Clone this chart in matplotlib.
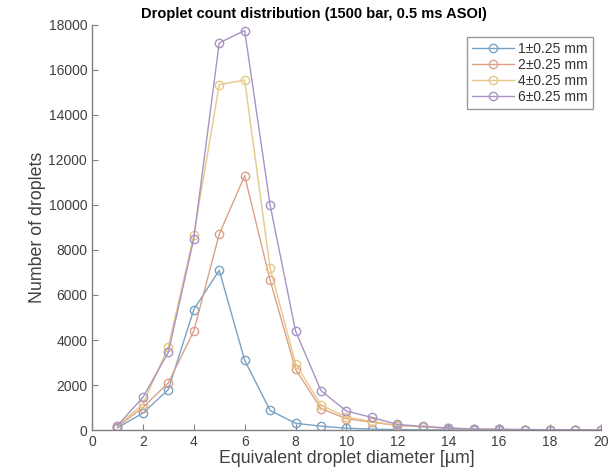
import matplotlib
matplotlib.use("Agg")
import matplotlib.pyplot as plt

plt.rcParams['font.family'] = ['Liberation Sans', 'DejaVu Sans']

diameter = list(range(1, 21))
s1 = [100, 750, 1800, 5350, 7100, 3100, 870, 300, 170, 80, 40, 20, 10, 5, 3, 2, 1, 1, 0, 0]
s2 = [150, 1000, 2100, 4400, 8700, 11300, 6650, 2700, 950, 500, 350, 200, 140, 80, 40, 25, 15, 10, 5, 3]
s4 = [180, 1150, 3700, 8650, 15350, 15550, 7200, 2950, 1100, 580, 380, 210, 140, 80, 40, 25, 15, 10, 5, 3]
s6 = [200, 1450, 3450, 8500, 17200, 17750, 10000, 4400, 1750, 840, 560, 250, 160, 90, 45, 30, 20, 15, 10, 5]
labels = ['1\u00b10.25 mm', '2\u00b10.25 mm', '4\u00b10.25 mm', '6\u00b10.25 mm']
colors = ['#78a2c6', '#dca088', '#e6c986', '#a893c4']

fig = plt.figure(figsize=(6.15, 4.76), dpi=100)
ax = fig.add_axes([0.1496, 0.0966, 0.8274, 0.851])

for ys, lab, c in zip([s1, s2, s4, s6], labels, colors):
    ax.plot(diameter, ys, '-o', color=c, mfc='none', mec=c, lw=1.0,
            ms=6, mew=1.0, label=lab)

ax.set_xlim(0, 20)
ax.set_ylim(0, 18000)
ax.set_xticks(range(0, 21, 2))
ax.set_yticks(range(0, 18001, 2000))
for side in ['top', 'right']:
    ax.spines[side].set_visible(False)
for side in ['left', 'bottom']:
    ax.spines[side].set_color('#808080')
    ax.spines[side].set_linewidth(1.0)
ax.tick_params(direction='in', length=4, colors='#808080', labelcolor='#404040', labelsize=10)

ax.set_xlabel('Equivalent droplet diameter [\u00b5m]', fontsize=12.8, color='#404040', labelpad=1)
ax.set_ylabel('Number of droplets', fontsize=12.8, color='#404040', labelpad=2)
ax.set_title('Droplet count distribution (1500 bar, 0.5 ms ASOI)', fontsize=10.5,
             fontweight='bold', pad=5, x=0.436)

leg = ax.legend(loc='upper right', fontsize=10, frameon=True, fancybox=False,
                edgecolor='#808080', borderpad=0.35, labelspacing=0.15,
                handlelength=3.0, handletextpad=0.3, borderaxespad=0,
                bbox_to_anchor=(0.984, 0.97))
leg.get_frame().set_linewidth(1.0)
for t in leg.get_texts():
    t.set_color('#333333')

fig.savefig('out.png', dpi=100)
